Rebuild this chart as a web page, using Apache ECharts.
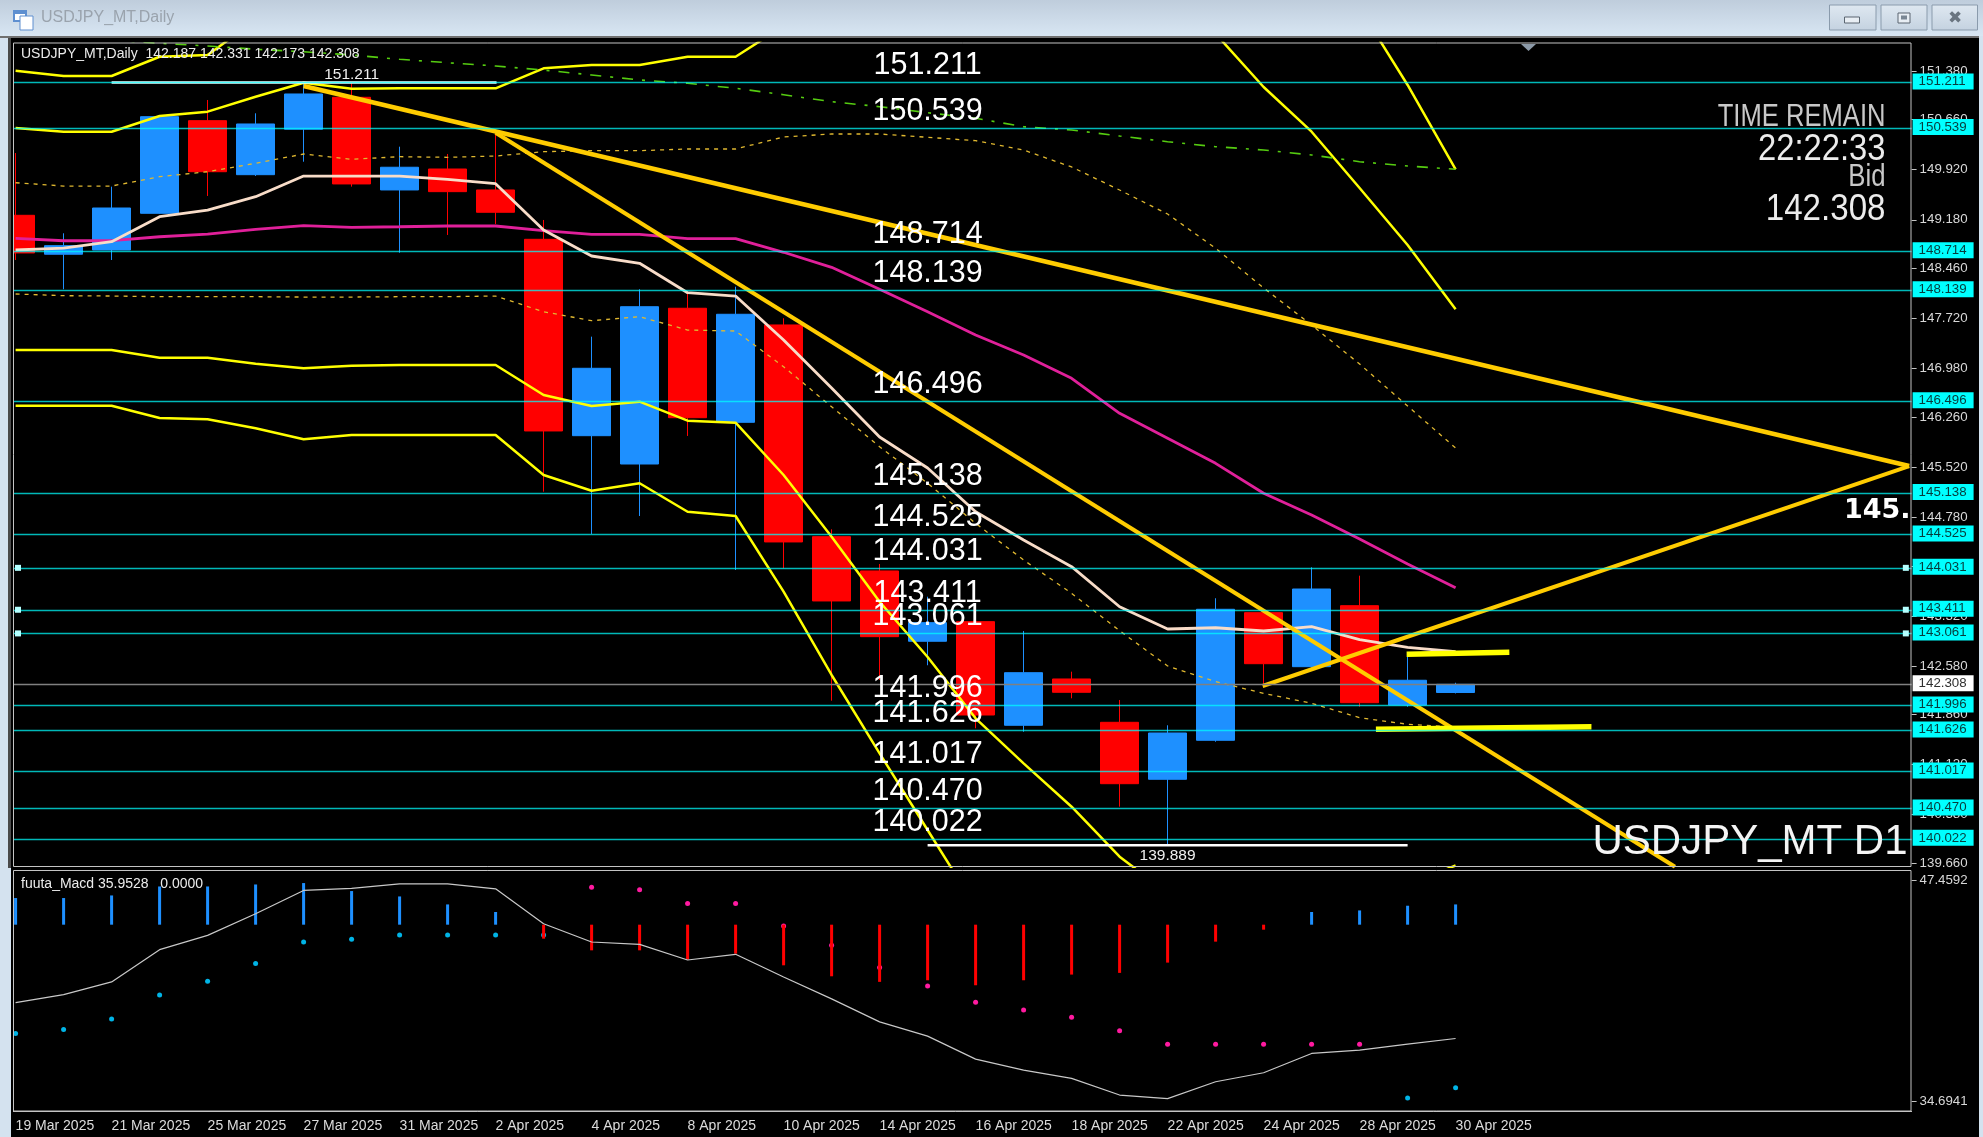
<!DOCTYPE html>
<html>
<head>
<meta charset="utf-8">
<title>USDJPY_MT,Daily</title>
<script src="https://cdn.jsdelivr.net/npm/echarts@6/dist/echarts.min.js"></script>
<style>
  html, body { margin: 0; padding: 0; background: #000; }
  #chart { width: 1983px; height: 1137px; }
</style>
</head>
<body>
<div id="chart"></div>
<script>
// bars, one entry per trading day
const dates = ['19 Mar 2025','20 Mar 2025','21 Mar 2025','24 Mar 2025','25 Mar 2025','26 Mar 2025','27 Mar 2025','28 Mar 2025','31 Mar 2025','1 Apr 2025','2 Apr 2025','3 Apr 2025','4 Apr 2025','7 Apr 2025','8 Apr 2025','9 Apr 2025','10 Apr 2025','11 Apr 2025','14 Apr 2025','15 Apr 2025','16 Apr 2025','17 Apr 2025','18 Apr 2025','21 Apr 2025','22 Apr 2025','23 Apr 2025','24 Apr 2025','25 Apr 2025','28 Apr 2025','29 Apr 2025','30 Apr 2025'];
const opens  = [149.246,148.670,148.733,149.276,150.646,149.847,150.519,150.992,149.621,149.931,149.621,148.891,145.986,145.567,147.871,146.184,147.624,144.492,143.985,142.945,143.235,141.702,142.387,141.746,140.903,141.480,143.368,142.569,143.471,142.002,142.187];
const closes = [148.689,148.797,149.354,150.705,149.891,150.597,151.041,149.710,149.957,149.596,149.291,146.056,146.983,147.894,146.252,147.782,144.414,143.541,143.013,143.220,141.854,142.480,142.190,140.838,141.588,143.418,142.613,143.718,142.036,142.368,142.308];
const lows   = [148.585,148.152,148.585,149.270,149.532,149.828,150.039,149.670,148.693,148.955,149.118,145.158,144.532,144.798,145.982,143.999,144.024,142.066,142.372,142.590,141.658,141.607,142.101,140.498,139.926,141.459,142.298,142.554,141.977,141.977,142.173];
const highs  = [150.168,148.980,149.670,150.720,150.952,150.755,151.211,151.199,150.261,150.153,150.434,149.177,147.451,148.152,148.093,148.190,147.723,144.601,144.088,143.604,143.260,143.097,142.495,142.076,141.702,143.581,143.408,144.039,143.915,142.772,142.331];

// overlays on the price pane
const maFast = [148.733,148.762,148.856,149.225,149.324,149.521,149.827,149.827,149.827,149.779,149.714,149.029,148.644,148.536,148.101,148.052,147.401,146.691,145.966,145.508,144.861,144.443,144.048,143.456,143.126,143.145,143.097,143.160,142.968,142.856,142.790];
const maSlow = [148.906,148.870,148.870,148.929,148.969,149.039,149.092,149.069,149.077,149.088,149.088,149.018,148.965,148.965,148.900,148.900,148.699,148.477,148.151,147.820,147.475,147.179,146.835,146.317,145.947,145.577,145.134,144.813,144.458,144.088,143.737];
const bandUpper2 = [151.385,151.307,151.307,151.592,151.617,152.135,null,null,null,null,null,null,null,null,null,null,null,null,null,null,null,null,null,null,null,null,null,null,152.313,151.174,149.927];
const bandUpper1 = [150.537,150.483,150.483,150.715,150.779,151.000,151.208,151.119,151.125,151.125,151.125,151.421,151.469,151.469,151.592,151.592,152.046,null,null,null,null,null,null,null,null,151.932,151.144,150.483,149.650,148.807,147.856];
const bandLower1 = [147.253,147.253,147.253,147.140,147.140,147.051,146.983,147.021,147.031,147.031,147.031,146.588,146.425,146.489,146.208,146.178,145.404,144.492,143.530,142.712,141.805,141.139,140.497,139.758,139.221,null,null,null,null,139.339,139.628];
const bandLower2 = [146.429,146.429,146.429,146.248,146.228,146.095,145.932,145.996,145.996,145.996,145.996,145.404,145.172,145.282,144.861,144.798,143.678,142.446,141.287,140.153,139.018,null,null,null,null,null,null,null,null,null,null];
const dotUpper = [149.728,149.679,149.679,149.817,149.891,150.015,150.153,150.074,150.113,150.104,150.123,150.187,150.202,150.202,150.227,150.227,150.404,150.449,150.449,150.400,150.350,150.212,149.961,149.620,149.265,148.758,148.171,147.623,147.046,146.425,145.804];
const dotLower = [148.082,148.057,148.052,148.042,148.042,148.042,148.037,148.037,148.042,148.042,148.052,147.820,147.687,147.746,147.549,147.534,147.006,146.415,145.823,145.282,144.690,144.147,143.654,143.101,142.579,142.347,142.175,142.027,141.814,141.717,141.676];
const dashGreen = [null,null,151.839,151.790,151.751,151.702,151.666,151.617,151.554,151.503,151.455,151.395,151.322,151.248,151.199,151.125,151.030,150.927,150.853,150.764,150.681,150.557,150.508,150.419,150.335,150.261,150.212,150.138,150.039,149.975,149.927];

// hand drawn lines, [bar position, price]
const trendFalling = [[6, 151.159], [39.45, 145.537]];
const trendSteep   = [[10, 150.468], [34.57, 139.610]];
const trendRising  = [[25.98, 142.283], [39.45, 145.537]];
const shortUpper   = [[28.98, 142.752], [31.12, 142.781]];
const shortLower   = [[28.34, 141.642], [32.83, 141.681]];
const highLine     = [[2, 151.211], [10.02, 151.211]];
const lowLine      = [[19, 139.926], [29, 139.926]];

// horizontal levels
const levels = [151.211,150.539,148.714,148.139,146.496,145.138,144.525,144.031,143.411,143.061,141.996,141.626,141.017,140.470,140.022];
const handleLevels = [144.031,143.411,143.061];
const bidPrice = 142.308;

// axis ticks
const priceTicks = [151.380,150.660,149.920,149.180,148.460,147.720,146.980,146.260,145.520,144.780,144.060,143.320,142.580,141.860,141.120,140.380,139.660];
const macdTicks = [47.4592,34.6941];

// lower pane
const macdBars = [2.67,2.67,2.93,3.83,3.83,4.03,4.17,3.37,2.83,2.03,1.27,-1.40,-2.57,-2.57,-3.50,-2.90,-4.07,-5.17,-5.73,-5.57,-6.07,-5.57,-5.00,-4.83,-3.80,-1.70,-0.50,1.27,1.43,1.90,2.03];
const macdDots = [-10.90,-10.50,-9.44,-7.04,-5.67,-3.90,-1.74,-1.47,-1.04,-1.04,-1.04,-1.04,3.76,3.50,2.13,2.13,-0.14,-2.07,-4.30,-6.14,-7.77,-8.54,-9.27,-10.64,-11.97,-11.97,-11.97,-11.97,-11.97,-17.37,-16.34];
const macdDotUp = [1,1,1,1,1,1,1,1,1,1,1,1,0,0,0,0,0,0,0,0,0,0,0,0,0,0,0,0,0,1,1];
const macdLine = [40.409,40.870,41.600,43.464,44.290,45.538,46.883,46.998,47.267,47.267,46.979,44.962,43.906,43.771,42.868,43.195,41.888,40.621,39.295,38.469,37.144,36.510,36.029,35.069,34.858,35.837,36.356,37.470,37.662,38.008,38.335];

const FONT = '"Liberation Sans", Arial, sans-serif';
const SLOTS = 40; // empty room to the right of the last bar
const categories = dates.concat(new Array(SLOTS - dates.length).fill(''));
const PLOT_LEFT = -8.4, PLOT_WIDTH = 1920;
const AXIS_GREY = '#c4c4c4';

function priceLine(name, data, color, width, extra) {
  return Object.assign({
    name, type: 'line', xAxisIndex: 0, yAxisIndex: 0, data, symbol: 'none', silent: true, z: 3,
    lineStyle: { color, width }
  }, extra || {});
}
function drawnLine(name, data, color, width) {
  return { name, type: 'line', xAxisIndex: 1, yAxisIndex: 0, data, symbol: 'none', silent: true, z: 4,
    lineStyle: { color, width, cap: 'butt' } };
}

const levelTag = {
  show: true, position: 'end', distance: 1, offset: [0, -1],
  formatter: p => p.value.toFixed(3),
  backgroundColor: '#00ffff', color: '#063c3c', fontFamily: FONT, fontSize: 13.3,
  width: 49, height: 16, lineHeight: 16, padding: [0, 6], align: 'left'
};

const series = [
  { name: 'USDJPY', type: 'candlestick', xAxisIndex: 0, yAxisIndex: 0, barWidth: 38, z: 2, silent: true,
    data: dates.map((d, i) => [opens[i], closes[i], lows[i], highs[i]]),
    itemStyle: { color: '#1e90ff', color0: '#ff0000', borderColor: '#1e90ff', borderColor0: '#ff0000', borderWidth: 1 } },
  priceLine('bandUpper2', bandUpper2, '#ffff00', 2.5),
  priceLine('bandUpper1', bandUpper1, '#ffff00', 2.5),
  priceLine('bandLower1', bandLower1, '#ffff00', 2.5),
  priceLine('bandLower2', bandLower2, '#ffff00', 2.5),
  priceLine('dotUpper', dotUpper, '#d8b030', 1, { lineStyle: { color: '#e0b830', width: 1.3, type: [4, 5] } }),
  priceLine('dotLower', dotLower, '#d8b030', 1, { lineStyle: { color: '#e0b830', width: 1.3, type: [4, 5] } }),
  priceLine('dashGreen', dashGreen, '#4fc010', 1.5, { lineStyle: { color: '#55cc10', width: 1.6, type: [11, 9, 3, 9] } }),
  priceLine('maSlow', maSlow, '#e0209a', 2.8),
  priceLine('maFast', maFast, '#f8dcc8', 2.8),
  drawnLine('trendFalling', trendFalling, '#ffcc00', 4.5),
  drawnLine('trendSteep', trendSteep, '#ffcc00', 4),
  drawnLine('trendRising', trendRising, '#ffcc00', 4),
  drawnLine('shortUpper', shortUpper, '#ffff00', 5.5),
  drawnLine('shortLower', shortLower, '#ffff00', 5.5),
  drawnLine('highLine', highLine, '#ffffff', 2.5),
  drawnLine('lowLine', lowLine, '#ffffff', 2.5),
  // level lines, their axis tags and the big figures in the middle of the chart
  { name: 'levels', type: 'scatter', xAxisIndex: 1, yAxisIndex: 0, z: 6, silent: true, symbolSize: 0,
    itemStyle: { opacity: 1 },
    data: levels.map(v => [19, v]),
    label: { show: true, position: 'top', distance: 1, formatter: p => p.value[1].toFixed(3),
      color: '#ffffff', fontFamily: FONT, fontSize: 30.5 },
    markLine: {
      silent: true, symbol: 'none', animation: false, precision: 3,
      lineStyle: { color: 'rgba(0,255,255,0.72)', width: 1.4, type: 'solid' },
      label: levelTag,
      data: levels.map(v => ({ yAxis: v })).concat([{
        yAxis: bidPrice,
        lineStyle: { color: '#808080', width: 1.4, type: 'solid' },
        label: Object.assign({}, levelTag, { backgroundColor: '#ffffff', color: '#303030' })
      }])
    } },
  { name: 'handles', type: 'scatter', xAxisIndex: 1, yAxisIndex: 0, z: 7, silent: true,
    symbol: 'rect', symbolSize: 6, itemStyle: { color: '#b4ffff', opacity: 1 },
    data: handleLevels.flatMap(v => [[0.05, v], [39.38, v]]) },
  { name: 'highLabel', type: 'scatter', xAxisIndex: 1, yAxisIndex: 0, z: 6, silent: true, symbolSize: 0,
    itemStyle: { opacity: 1 }, data: [[7, 151.211]],
    label: { show: true, position: 'top', distance: 0, formatter: '151.211', color: '#f0f0f0', fontFamily: FONT, fontSize: 15.5 } },
  { name: 'lowLabel', type: 'scatter', xAxisIndex: 1, yAxisIndex: 0, z: 6, silent: true, symbolSize: 0,
    itemStyle: { opacity: 1 }, data: [[24, 139.926]],
    label: { show: true, position: 'bottom', distance: 2, formatter: '139.889', color: '#f0f0f0', fontFamily: FONT, fontSize: 15.5 } },
  // lower pane
  { name: 'macdBars', type: 'bar', xAxisIndex: 2, yAxisIndex: 2, barWidth: 3, silent: true, z: 2,
    data: macdBars.map(v => ({ value: v, itemStyle: { color: v >= 0 ? '#1e90ff' : '#ff0000' } })) },
  { name: 'macdDots', type: 'scatter', xAxisIndex: 2, yAxisIndex: 2, symbolSize: 5, silent: true, z: 1,
    data: macdDots.map((v, i) => ({ value: [i, v], itemStyle: { opacity: 1, color: macdDotUp[i] ? '#00b4e6' : '#ff1aa0' } })) },
  { name: 'macdLine', type: 'line', xAxisIndex: 2, yAxisIndex: 1, data: macdLine, symbol: 'none', silent: true, z: 3,
    lineStyle: { color: '#c8c8c8', width: 1.2 } }
];

// window frame around the chart
function box(x, y, width, height, fill, stroke, z) {
  return { type: 'rect', silent: true, z: z || 100, shape: { x, y, width, height },
    style: { fill: fill || 'transparent', stroke: stroke || null, lineWidth: 1 } };
}
function text(x, y, str, fontSize, color, opts, scaleX) {
  return { type: 'text', silent: true, z: 110, x, y, scaleX: scaleX || 1,
    style: Object.assign({ text: str, fill: color, fontFamily: FONT, fontSize, textAlign: 'left', textVerticalAlign: 'middle' }, opts || {}) };
}
const barGradient = new echarts.graphic.LinearGradient(0, 0, 0, 1, [
  { offset: 0, color: '#bfcddc' }, { offset: 1, color: '#d8e6f3' }
]);
const btnGradient = new echarts.graphic.LinearGradient(0, 0, 0, 1, [
  { offset: 0, color: '#dfe8f1' }, { offset: 1, color: '#c4d2e0' }
]);
const RIGHT = { textAlign: 'right' };
const frame = [
  box(0, 0, 1983, 36, barGradient),
  box(0, 36, 1983, 2, '#707070'),
  box(0, 38, 8, 1099, '#d4e2ef'),
  box(8, 38, 3, 830, '#4a4a4a'),
  box(8, 868, 3, 269, '#d4e2ef'),
  box(11, 38, 2, 1099, '#000000'),
  box(1979, 36, 4, 1101, '#d4e2ef'),
  box(13.5, 43, 1897.5, 823.5, null, AXIS_GREY),
  box(13.5, 870.5, 1897.5, 240.5, null, AXIS_GREY),
  // title bar icon
  box(13, 10, 14, 12, '#5e8fd0'),
  box(15, 14, 10, 6, '#ffffff'),
  box(20, 16, 13, 14, '#ffffff', '#5e8fd0'),
  text(41, 18, 'USDJPY_MT,Daily', 16, '#9aa3ad'),
  // title bar buttons
  box(1829.5, 5, 46.5, 25, btnGradient, '#8a9bac'),
  box(1881, 5, 46, 25, btnGradient, '#8a9bac'),
  box(1932, 5, 45.5, 25, btnGradient, '#8a9bac'),
  box(1844.5, 17, 15, 6, '#e8eef4', '#5a6570'),
  box(1898, 13, 12, 10, '#e8eef4', '#5a6570'),
  box(1901, 15.5, 6, 4, '#7a8794'),
  text(1954.5, 18, '\u2716', 17, '#6a7580', { textAlign: 'center' }),
  // marker at the top of the chart
  { type: 'polygon', silent: true, z: 100, shape: { points: [[1521, 44], [1536, 44], [1528.5, 51]] }, style: { fill: '#8c9aa8' } },
  // chart texts
  text(21, 54, 'USDJPY_MT,Daily  142.187 142.331 142.173 142.308', 14, '#ececec'),
  text(21, 884, 'fuuta_Macd 35.9528   0.0000', 14, '#ececec'),
  text(1885.5, 117, 'TIME REMAIN', 32, '#c8c8c8', RIGHT, 0.8),
  text(1885.5, 150, '22:22:33', 36, '#ececec', RIGHT, 0.91),
  text(1885.5, 177, 'Bid', 31, '#c8c8c8', RIGHT, 0.83),
  text(1885.5, 210, '142.308', 36, '#ececec', RIGHT, 0.92),
  text(1844, 511, '145.', 27, '#ffffff', { fontFamily: '"DejaVu Sans"', fontWeight: 'bold' }),
  text(1592.5, 842, 'USDJPY_MT D1', 42, '#f4f4f4')
];

const chart = echarts.init(document.getElementById('chart'), null, { renderer: 'canvas' });
chart.setOption({
  animation: false,
  backgroundColor: '#000000',
  grid: [
    { left: PLOT_LEFT, width: PLOT_WIDTH, top: 43, height: 823.7, outerBoundsMode: 'none' },
    { left: PLOT_LEFT, width: PLOT_WIDTH, top: 870.5, height: 240.5, outerBoundsMode: 'none' }
  ],
  xAxis: [
    { type: 'category', gridIndex: 0, data: categories, show: false },
    { type: 'value', gridIndex: 0, min: -0.5, max: SLOTS - 0.5, show: false },
    { type: 'category', gridIndex: 1, data: categories,
      axisLine: { onZero: false, lineStyle: { color: AXIS_GREY } },
      axisTick: { alignWithLabel: true, length: 5, lineStyle: { color: AXIS_GREY },
        interval: (i, v) => v !== '' && i % 2 === 0 },
      axisLabel: { color: '#dcdcdc', fontFamily: FONT, fontSize: 14, align: 'left', margin: 8,
        interval: (i, v) => v !== '' && i % 2 === 0 } }
  ],
  yAxis: [
    { type: 'value', gridIndex: 0, position: 'right', min: 139.610, max: 151.795, splitLine: { show: false },
      axisLine: { show: false, onZero: false },
      axisTick: { show: true, length: 5, lineStyle: { color: AXIS_GREY }, customValues: priceTicks },
      axisLabel: { color: '#d8d8d8', fontFamily: FONT, fontSize: 13.3, margin: 8, showMinLabel: true, showMaxLabel: true,
        customValues: priceTicks, formatter: v => v.toFixed(3) } },
    { type: 'value', gridIndex: 1, position: 'right', min: 34.147, max: 48.035, splitLine: { show: false },
      axisLine: { show: false, onZero: false },
      axisTick: { show: true, length: 5, lineStyle: { color: AXIS_GREY }, customValues: macdTicks },
      axisLabel: { color: '#d8d8d8', fontFamily: FONT, fontSize: 13.3, margin: 8,
        customValues: macdTicks, formatter: v => v.toFixed(4) } },
    { type: 'value', gridIndex: 1, min: -18.67, max: 5.43, show: false, axisLine: { onZero: false } }
  ],
  series,
  graphic: { elements: frame }
});
</script>
</body>
</html>
